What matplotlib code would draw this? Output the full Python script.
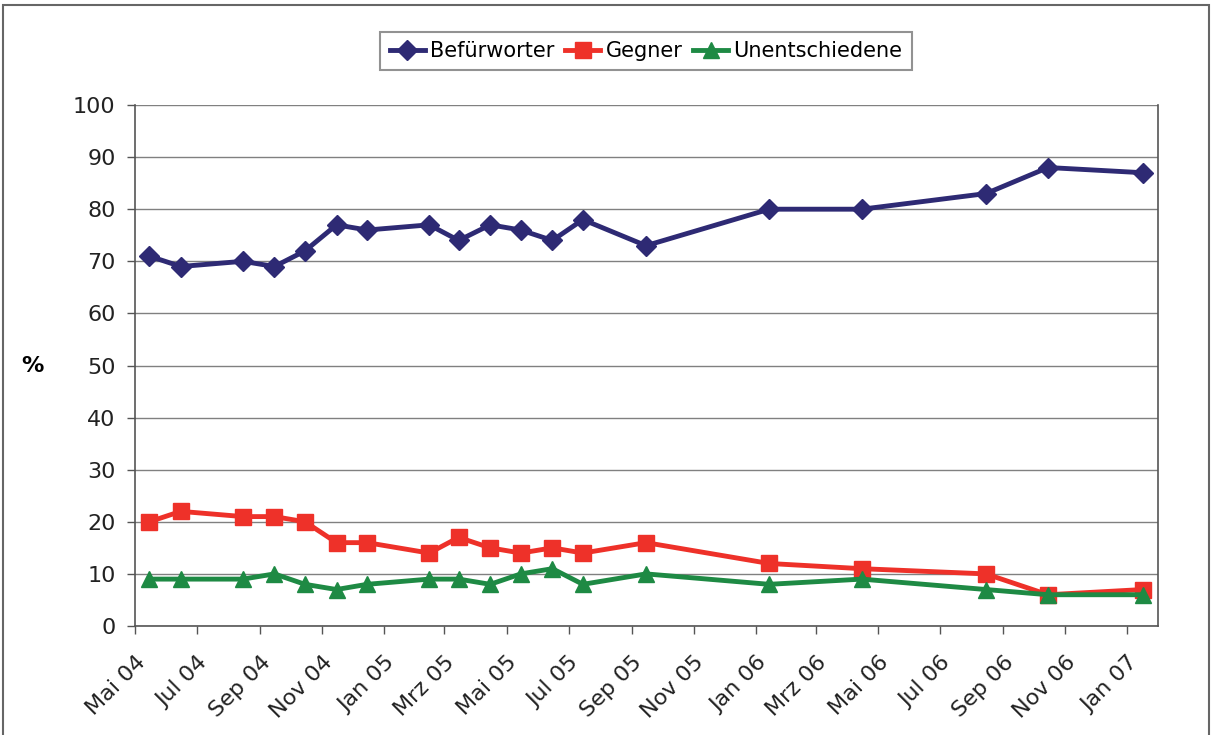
import numpy as np
import pandas as pd
import matplotlib
matplotlib.use("Agg")
import matplotlib.pyplot as plt
from matplotlib.patches import Rectangle

# ------------------------------------------------------------
dates = ["2004-05-15", "2004-06-15", "2004-08-15", "2004-09-15", "2004-10-15",
         "2004-11-15", "2004-12-15", "2005-02-14", "2005-03-15", "2005-04-15",
         "2005-05-15", "2005-06-15", "2005-07-15", "2005-09-15", "2006-01-14",
         "2006-04-15", "2006-08-15", "2006-10-15", "2007-01-16"]
befuerworter = [71, 69, 70, 69, 72, 77, 76, 77, 74, 77, 76, 74, 78, 73, 80, 80, 83, 88, 87]
gegner = [20, 22, 21, 21, 20, 16, 16, 14, 17, 15, 14, 15, 14, 16, 12, 11, 10, 6, 7]
unentschiedene = [9, 9, 9, 10, 8, 7, 8, 9, 9, 8, 10, 11, 8, 10, 8, 9, 7, 6, 6]

tick_dates = ["2004-05-01", "2004-07-01", "2004-09-01", "2004-11-01", "2005-01-01",
              "2005-03-01", "2005-05-01", "2005-07-01", "2005-09-01", "2005-11-01",
              "2006-01-01", "2006-03-01", "2006-05-01", "2006-07-01", "2006-09-01",
              "2006-11-01", "2007-01-01"]
tick_labels = ["Mai 04", "Jul 04", "Sep 04", "Nov 04", "Jan 05", "Mrz 05", "Mai 05",
               "Jul 05", "Sep 05", "Nov 05", "Jan 06", "Mrz 06", "Mai 06", "Jul 06",
               "Sep 06", "Nov 06", "Jan 07"]
#------------------------------------------------------------

plt.rcParams["font.family"] = ["DejaVu Sans"]
x = pd.to_datetime(dates)

fig = plt.figure(figsize=(12.13, 7.35), dpi=100)
ax = fig.add_axes([135/1213, 1 - 626/735, (1158-135)/1213, (626-105)/735])

grid_col = "#808080"
ax.plot(x, befuerworter, color="#2E2A74", lw=3.5, marker="D", ms=10.5, label="Befürworter", zorder=3)
ax.plot(x, gegner, color="#EE3129", lw=3.5, marker="s", ms=11, label="Gegner", zorder=3)
ax.plot(x, unentschiedene, color="#1E8A44", lw=3.5, marker="^", ms=12, label="Unentschiedene", zorder=3)

ax.set_xlim(pd.Timestamp("2004-05-01"), pd.Timestamp("2007-01-31"))
ax.set_ylim(0, 100)
ax.set_yticks(np.arange(0, 101, 10))
ax.yaxis.grid(True, color=grid_col, lw=1)
ax.set_axisbelow(True)

ax.set_xticks(pd.to_datetime(tick_dates))
ax.set_xticklabels(tick_labels, rotation=45, ha="right", rotation_mode="anchor")
ax.tick_params(axis="both", labelsize=16, length=6, width=1, color="#555555", labelcolor="#222222")
ax.tick_params(axis="x", pad=13)
ax.tick_params(axis="y", pad=8)

for side in ["left", "bottom", "right"]:
    ax.spines[side].set_color("#555555")
    ax.spines[side].set_linewidth(1.2)
ax.spines["top"].set_visible(False)

fig.text(32/1213, 1 - 366/735, "%", fontsize=16, fontweight="bold", ha="center", va="center")

leg = fig.legend(loc="center", bbox_to_anchor=(646/1213, 1 - 51/735), ncol=3,
                 fontsize=15, frameon=True, fancybox=False, handlelength=1.7,
                 handletextpad=0.25, columnspacing=0.5, borderpad=0.45, borderaxespad=0)
leg.get_frame().set_edgecolor("#777777")
leg.get_frame().set_linewidth(1.5)

fig.patches.append(Rectangle((3/1213, -0.05), 1206/1213, 1.05 - 5/735,
                             transform=fig.transFigure, fill=False,
                             edgecolor="#666666", lw=1.5))

fig.savefig("out.png", dpi=100)
plt.close()
